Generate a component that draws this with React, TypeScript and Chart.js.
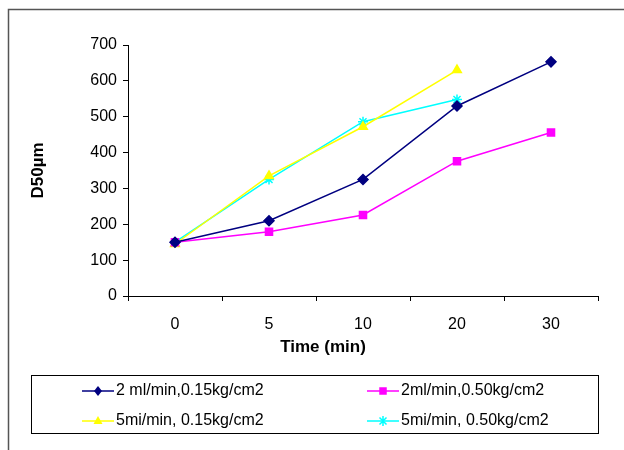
import React, { useEffect, useRef } from "react";
import { Chart, registerables } from "chart.js";

Chart.register(...registerables);

const categories = ["0", "5", "10", "20", "30"];
const series1Label = "2 ml/min,0.15kg/cm2";
const series1 = [150, 210, 325, 530, 653];
const series2Label = "2ml/min,0.50kg/cm2";
const series2 = [150, 179, 226, 376, 456];
const series3Label = "5mi/min, 0.15kg/cm2";
const series3 = [145, 335, 472, 630, null];
const series4Label = "5mi/min, 0.50kg/cm2";
const series4 = [150, 325, 486, 548, null];
const yTitle = "D50µm";
const xTitle = "Time (min)";

const FONT = "'Liberation Sans', Arial, sans-serif";

function marker(ctx: CanvasRenderingContext2D, style: string, color: string, r: number, x: number, y: number) {
  ctx.save();
  ctx.fillStyle = color;
  ctx.strokeStyle = color;
  ctx.lineWidth = 1.5;
  ctx.beginPath();
  if (style === "rectRot") {
    ctx.moveTo(x, y - r);
    ctx.lineTo(x + r * 0.8, y);
    ctx.lineTo(x, y + r);
    ctx.lineTo(x - r * 0.8, y);
    ctx.closePath();
    ctx.fill();
  } else if (style === "rect") {
    const s = r * 0.75;
    ctx.rect(x - s, y - s, 2 * s, 2 * s);
    ctx.fill();
  } else if (style === "triangle") {
    ctx.moveTo(x, y - r);
    ctx.lineTo(x + r * 0.9, y + r * 0.6);
    ctx.lineTo(x - r * 0.9, y + r * 0.6);
    ctx.closePath();
    ctx.fill();
  } else {
    const d = r * 0.7;
    ctx.moveTo(x - d, y - d);
    ctx.lineTo(x + d, y + d);
    ctx.moveTo(x + d, y - d);
    ctx.lineTo(x - d, y + d);
    ctx.moveTo(x, y - r);
    ctx.lineTo(x, y + r);
    ctx.stroke();
  }
  ctx.restore();
}

const framePlugin = {
  id: "frame",
  beforeDraw(chart: any) {
    const ctx = chart.ctx;
    ctx.save();
    ctx.fillStyle = "#ffffff";
    ctx.fillRect(0, 0, chart.width, chart.height);
    ctx.strokeStyle = "#555555";
    ctx.lineWidth = 1.5;
    ctx.beginPath();
    ctx.moveTo(8.5, 450);
    ctx.lineTo(8.5, 9.5);
    ctx.lineTo(624, 9.5);
    ctx.stroke();
    ctx.restore();
  },
  afterDraw(chart: any) {
    const ctx = chart.ctx;
    ctx.save();
    ctx.fillStyle = "#000";
    ctx.font = `bold 17px ${FONT}`;
    ctx.textAlign = "center";
    ctx.textBaseline = "middle";
    ctx.fillText(xTitle, 323, 347);
    ctx.strokeStyle = "#000";
    ctx.lineWidth = 1;
    ctx.strokeRect(31.5, 375.5, 567, 58);
    const pos = [
      [82, 391],
      [367, 391],
      [82, 421],
      [367, 421],
    ];
    chart.data.datasets.forEach((ds: any, i: number) => {
      const [x, y] = pos[i];
      ctx.strokeStyle = ds.borderColor;
      ctx.lineWidth = 1.5;
      ctx.beginPath();
      ctx.moveTo(x, y);
      ctx.lineTo(x + 32, y);
      ctx.stroke();
      marker(ctx, ds.pointStyle, ds.borderColor, ds.pointRadius, x + 16, y);
      ctx.fillStyle = "#000";
      ctx.font = `16px ${FONT}`;
      ctx.textAlign = "left";
      ctx.textBaseline = "middle";
      ctx.fillText(ds.label, x + 34, y);
    });
    ctx.restore();
  },
};

export default function App() {
  const ref = useRef<HTMLCanvasElement>(null);
  useEffect(() => {
    if (!ref.current) return;
    const mk = (label: string, data: any[], color: string, style: string, r: number) => ({
      label,
      data,
      borderColor: color,
      backgroundColor: color,
      pointBackgroundColor: color,
      pointBorderColor: color,
      pointStyle: style,
      pointRadius: r,
      borderWidth: 1.5,
      tension: 0,
      spanGaps: false,
    });
    const chart = new Chart(ref.current, {
      type: "line",
      data: {
        labels: categories,
        datasets: [
          mk(series1Label, series1, "#000080", "rectRot", 5),
          mk(series2Label, series2, "#ff00ff", "rect", 5),
          mk(series3Label, series3, "#ffff00", "triangle", 5),
          mk(series4Label, series4, "#00ffff", "star", 5),
        ],
      },
      options: {
        animation: false,
        responsive: false,
        layout: { padding: { left: 0, top: 45, right: 26, bottom: 0 } },
        plugins: {
          legend: { display: false },
          tooltip: { enabled: false },
        },
        scales: {
          x: {
            offset: true,
            grid: {
              offset: true,
              drawOnChartArea: false,
              drawTicks: true,
              tickLength: 5,
              color: "#000",
            },
            border: { color: "#000", width: 1 },
            ticks: { color: "#000", font: { family: FONT, size: 16 }, padding: 14 },
            afterFit(scale: any) {
              scale.height = 154;
            },
          },
          y: {
            min: 0,
            max: 700,
            grid: {
              drawOnChartArea: false,
              drawTicks: true,
              tickLength: 5,
              color: "#000",
            },
            border: { color: "#000", width: 1 },
            ticks: { stepSize: 100, color: "#000", font: { family: FONT, size: 16 }, padding: 6 },
            title: {
              display: true,
              text: yTitle,
              color: "#000",
              font: { family: FONT, size: 17, weight: "bold" },
              padding: { top: 28, bottom: 0 },
            },
            afterFit(scale: any) {
              scale.width = 128;
            },
          },
        },
      },
      plugins: [framePlugin],
    });
    return () => chart.destroy();
  }, []);
  return (
    <div style={{ position: "fixed", left: 0, top: 0, width: 624, height: 450, background: "#fff" }}>
      <canvas ref={ref} width={624} height={450} style={{ display: "block" }} />
    </div>
  );
}
